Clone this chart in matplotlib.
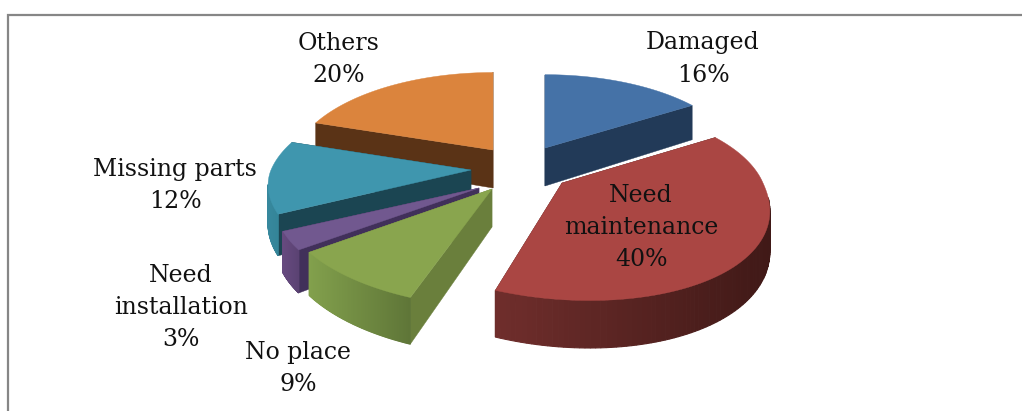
import numpy as np
import matplotlib
matplotlib.use('Agg')
import matplotlib.pyplot as plt
from matplotlib.patches import Polygon
from matplotlib.colors import to_rgb

labels = ['Damaged', 'Need\nmaintenance', 'No place', 'Need\ninstallation', 'Missing parts', 'Others']
values = [16, 40, 9, 3, 12, 20]

top_colors = ['#4572a7', '#aa4643', '#89a54e', '#71588f', '#3f96ae', '#db843d']
side_colors = ['#223a58', '#4a1c1a', '#6a7f3c', '#41305a', '#1b4552', '#5a3316']
rim_left = ['#2d4d73', '#702e2c', '#82a04c', '#664a7f', '#37889d', '#8a5426']
rim_right = ['#223a58', '#401917', '#5f7638', '#5a4272', '#2f7f91', '#5a3316']

# apex of every exploded slice on the page, pixels
apex_x = [545, 562, 492, 479, 471, 493]
apex_y = [148, 183, 189, 188, 170, 150]
radius_x = [193, 201, 205, 200, 200, 198]
radius_y = [88, 94, 95, 93, 95, 93]
skew = [0, 22, 10, 6, 16, 0]
label_x = [703, 641, 298, 181, 175, 339]
label_y = [59, 227, 368, 307, 185, 59]

persp, depth = 0.2, 38
draw_order = [5, 0, 4, 3, 2, 1]


def rim_points(i, theta):
    x_u, y_u = np.sin(theta), np.cos(theta)
    w = 1 + persp * y_u
    sx = apex_x[i] + (radius_x[i] * x_u + skew[i] * np.maximum(-y_u, 0) ** 1.5) / w
    sy = apex_y[i] - radius_y[i] * y_u / w
    return sx, sy, depth / w, y_u


fig = plt.figure(figsize=(10.22, 4.11), dpi=100)
ax = fig.add_axes([0, 0, 1, 1])
ax.set_xlim(0, 1022)
ax.set_ylim(411, 0)
ax.axis('off')

edges = np.radians(np.cumsum([0] + values) * 3.6)

for i in draw_order:
    theta = np.linspace(edges[i], edges[i + 1], 120)
    sx, sy, d, y_u = rim_points(i, theta)
    ax_, ay_ = apex_x[i], apex_y[i]

    # radial side walls
    for j in (0, -1):
        ax.add_patch(Polygon([(ax_, ay_), (sx[j], sy[j]), (sx[j], sy[j] + d[j]), (ax_, ay_ + depth)],
                             fc=side_colors[i], ec=side_colors[i], lw=0.3))

    # outer wall, shaded strip by strip, only the part facing the viewer
    c0, c1 = np.array(to_rgb(rim_left[i])), np.array(to_rgb(rim_right[i]))
    for k in range(len(theta) - 1):
        if y_u[k] > -0.15:
            continue
        t = (sx[k] - sx.min()) / max(sx.max() - sx.min(), 1)
        col = c0 + (c1 - c0) * t
        ax.add_patch(Polygon([(sx[k], sy[k]), (sx[k + 1], sy[k + 1]),
                              (sx[k + 1], sy[k + 1] + d[k + 1]), (sx[k], sy[k] + d[k])],
                             fc=col, ec=col, lw=0.8))

    # top face
    ax.add_patch(Polygon(np.column_stack([np.r_[ax_, sx], np.r_[ay_, sy]]),
                         fc=top_colors[i], ec=top_colors[i], lw=0.3))

# chart frame, cut by the page on the right and bottom
ax.plot([8, 8, 1022], [411, 15, 15], color='#868686', lw=1.6, solid_joinstyle='miter')

for i, name in enumerate(labels):
    ax.text(label_x[i], label_y[i], f'{name}\n{values[i]}%', ha='center', va='center',
            family='DejaVu Serif', fontsize=17, color='#111111', linespacing=1.5)

fig.savefig('out.png', dpi=100)
